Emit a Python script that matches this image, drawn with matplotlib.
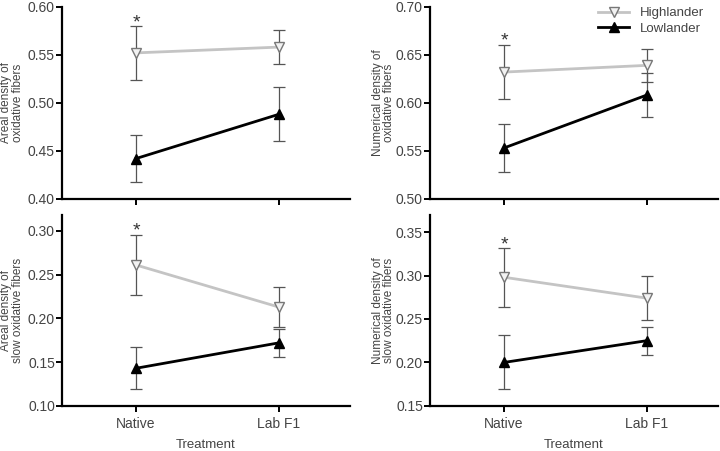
import numpy as np
import matplotlib
matplotlib.use("Agg")
import matplotlib.pyplot as plt

plt.rcParams["font.family"] = ["Liberation Sans", "DejaVu Sans"]

treatments = ["Native", "Lab F1"]

# panel order: top-left, top-right, bottom-left, bottom-right
ylabels = ["Areal density of\noxidative fibers",
           "Numerical density of\noxidative fibers",
           "Areal density of\nslow oxidative fibers",
           "Numerical density of\nslow oxidative fibers"]

high_mean = [[0.552, 0.558], [0.632, 0.639], [0.261, 0.213], [0.298, 0.274]]
high_err = [[0.028, 0.018], [0.028, 0.017], [0.034, 0.023], [0.034, 0.025]]
low_mean = [[0.442, 0.488], [0.553, 0.608], [0.143, 0.172], [0.200, 0.225]]
low_err = [[0.024, 0.028], [0.025, 0.023], [0.024, 0.016], [0.031, 0.016]]

star_y = [0.589, 0.670, 0.306, 0.342]
ylims = [(0.40, 0.60), (0.50, 0.70), (0.10, 0.3185), (0.15, 0.37)]
yticks = [np.arange(0.40, 0.601, 0.05), np.arange(0.50, 0.701, 0.05),
          np.arange(0.10, 0.301, 0.05), np.arange(0.15, 0.351, 0.05)]

positions = [[0.086, 0.559, 0.40, 0.426],
             [0.597, 0.559, 0.40, 0.426],
             [0.086, 0.100, 0.40, 0.424],
             [0.597, 0.100, 0.40, 0.424]]
label_x = [-0.132, -0.12, -0.132, -0.12]

txt = "#444444"
fig = plt.figure(figsize=(7.2, 4.51), dpi=100)
x = np.arange(len(treatments))

for i in range(4):
    ax = fig.add_axes(positions[i])
    ax.errorbar(x, high_mean[i], yerr=high_err[i], fmt="none", ecolor="#555555",
                elinewidth=0.9, capsize=4, capthick=0.9, zorder=2)
    ax.errorbar(x, low_mean[i], yerr=low_err[i], fmt="none", ecolor="#555555",
                elinewidth=0.9, capsize=4, capthick=0.9, zorder=2)
    ax.plot(x, high_mean[i], color="#c4c4c4", lw=2, marker="v", ms=7,
            mfc="#f2f2f2", mec="#777777", mew=1, label="Highlander", zorder=3)
    ax.plot(x, low_mean[i], color="black", lw=2, marker="^", ms=7,
            mfc="black", mec="black", label="Lowlander", zorder=3)
    ax.annotate("*", (0, star_y[i]), xytext=(0, -4), textcoords="offset points",
                ha="center", va="center", fontsize=14, color="#333333")

    ax.set_xlim(-0.52, 1.5)
    ax.set_ylim(*ylims[i])
    ax.set_yticks(yticks[i])
    ax.set_yticklabels([f"{v:.2f}" for v in yticks[i]])
    ax.set_xticks(x)
    if i >= 2:
        ax.set_xticklabels(treatments)
        ax.set_xlabel("Treatment", fontsize=9.5, color=txt, labelpad=6)
    else:
        ax.set_xticklabels([])
    ax.set_ylabel(ylabels[i], fontsize=8.5, color=txt, linespacing=0.95)
    ax.yaxis.set_label_coords(label_x[i], 0.5)

    for s in ["top", "right"]:
        ax.spines[s].set_visible(False)
    for s in ["left", "bottom"]:
        ax.spines[s].set_linewidth(1.6)
    ax.tick_params(direction="out", length=4, width=1.4, labelsize=10,
                   labelcolor=txt, pad=1)
    ax.tick_params(axis="x", pad=4)

    if i == 1:
        ax.legend(loc="upper right", bbox_to_anchor=(0.98, 1.04), frameon=False,
                  fontsize=9.5, handlelength=2.4, labelcolor=txt,
                  borderaxespad=0.2, labelspacing=0.25)

fig.savefig("out.png", dpi=100)
